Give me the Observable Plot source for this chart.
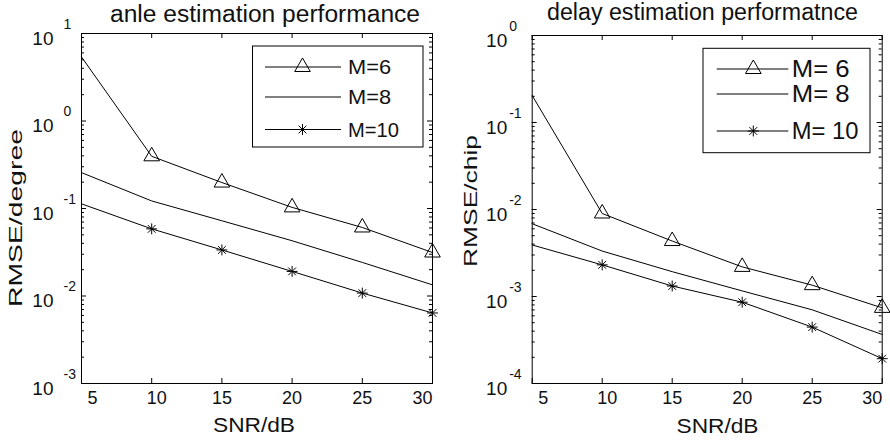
<!DOCTYPE html>
<html><head><meta charset="utf-8">
<script src="https://cdn.jsdelivr.net/npm/d3@7"></script>
<script src="https://cdn.jsdelivr.net/npm/@observablehq/plot@0.6"></script>
<style>
html,body{margin:0;padding:0;background:#fff;}
#wrap{position:relative;width:890px;height:443px;overflow:hidden;}
#wrap svg{position:absolute;top:0;}
</style></head><body><div id="wrap"></div>
<script>
// ---- data ----
const snr = [5, 10, 15, 20, 25, 30];
const xTickValues = [5, 10, 15, 20, 25, 30];
const angleM6  = [5.4, 0.395, 0.198, 0.103, 0.0607, 0.0314];
const angleM8  = [0.257, 0.122, 0.0724, 0.0428, 0.0242, 0.0134];
const angleM10 = [0.113, 0.0585, 0.0336, 0.0191, 0.0108, 0.0064];
const delayM6  = [0.204, 0.0090, 0.00434, 0.00219, 0.00135, 0.00074];
const delayM8  = [0.00686, 0.00333, 0.00193, 0.00116, 0.000703, 0.000366];
const delayM10 = [0.00391, 0.00231, 0.00132, 0.00086, 0.000445, 0.000193];
const angleLegend = ["M=6", "M=8", "M=10"];
const delayLegend = ["M= 6", "M= 8", "M= 10"];
const titles = ["anle estimation performance", "delay estimation performatnce"];
const yLabels = ["RMSE/degree", "RMSE/chip"];
const xLabel = "SNR/dB";
const angleYExp = [-3, -2, -1, 0, 1];
const delayYExp = [-4, -3, -2, -1, 0];

const FONT = '"Liberation Sans", Arial, Helvetica, sans-serif';
const INK = "#111";
const triR = 5.8, astR = 3.6;

function rows(vals) { return snr.map((x, i) => ({snr: x, v: vals[i]})); }

function panel(cfg) {
  const W = 445, H = 443;
  const pw = W - cfg.ml - cfg.mr, ph = H - cfg.mt - cfg.mb;
  const major = cfg.exps.map(e => Math.pow(10, e));
  const minor = [];
  for (let e = cfg.exps[0]; e < cfg.exps[cfg.exps.length - 1]; e++)
    for (let k = 2; k <= 9; k++) minor.push(k * Math.pow(10, e));
  const s6 = rows(cfg.s6), s8 = rows(cfg.s8), s10 = rows(cfg.s10);
  const mk = d => d.snr >= 10;
  const xt = xTickValues;
  const axisOpts = {tickSize: 0, tickPadding: 8, fontSize: 18, label: null};
  const svg = Plot.plot({
    width: W, height: H,
    marginLeft: cfg.ml, marginRight: cfg.mr, marginTop: cfg.mt, marginBottom: cfg.mb,
    style: {fontFamily: FONT, fontSize: "18px", color: INK, background: "#fff"},
    x: {domain: [5, 30], axis: null},
    y: {type: "log", domain: [major[0], major[major.length - 1]], axis: null},
    marks: [
      Plot.axisX(xt.slice(0, 1), {...axisOpts, dx: 11}),
      Plot.axisX(xt.slice(1, 2), {...axisOpts, dx: 5}),
      Plot.axisX(xt.slice(2, 5), {...axisOpts}),
      Plot.axisX(xt.slice(5), {...axisOpts, dx: -10}),
      Plot.tickX(xt, {x: d => d, insetTop: ph - 5, stroke: "#000"}),
      Plot.tickX(xt, {x: d => d, insetBottom: ph - 5, stroke: "#000"}),
      Plot.tickY(major, {y: d => d, insetRight: pw - 5, stroke: "#000"}),
      Plot.tickY(major, {y: d => d, insetLeft: pw - 5, stroke: "#000"}),
      Plot.tickY(minor, {y: d => d, insetRight: pw - 3, stroke: "#000"}),
      Plot.tickY(minor, {y: d => d, insetLeft: pw - 3, stroke: "#000"}),
      Plot.text(major, {y: d => d, frameAnchor: "left", text: () => "10", textAnchor: "end",
        dx: cfg.baseDx, dy: 5, fontSize: 19, fill: INK}),
      Plot.text(cfg.exps, {y: e => Math.pow(10, e), frameAnchor: "left", text: e => String(e),
        textAnchor: "start", dx: cfg.expDx, dy: -9, fontSize: 14, fill: INK}),
      Plot.line(s6, {x: "snr", y: "v", stroke: "#000", strokeWidth: 1}),
      Plot.line(s8, {x: "snr", y: "v", stroke: "#000", strokeWidth: 1}),
      Plot.line(s10, {x: "snr", y: "v", stroke: "#000", strokeWidth: 1}),
      Plot.dot(s6.filter(mk), {x: "snr", y: "v", symbol: "triangle", r: triR, fill: "none", stroke: "#000", strokeWidth: 1}),
      Plot.dot(s10.filter(mk), {x: "snr", y: "v", symbol: "plus", r: astR, stroke: "#000", strokeWidth: 1}),
      Plot.dot(s10.filter(mk), {x: "snr", y: "v", symbol: "times", r: astR, stroke: "#000", strokeWidth: 1}),
      Plot.frame({stroke: "#000", strokeWidth: 1})
    ]
  });
  svg.style.left = cfg.left + "px";
  const g = d3.select(svg).append("g").attr("font-family", FONT).attr("fill", INK);
  const txt = (t, x, y, fs, len, rot) => {
    const el = g.append("text").attr("font-size", fs).attr("text-anchor", "middle")
      .attr("textLength", len).attr("lengthAdjust", "spacingAndGlyphs").text(t);
    if (rot) el.attr("transform", `translate(${x},${y}) rotate(-90)`);
    else el.attr("x", x).attr("y", y);
  };
  txt(cfg.title, cfg.titleX, cfg.titleY, 23, cfg.titleLen);
  txt(cfg.ylab, cfg.ylabX, cfg.ylabY, 19, cfg.ylabLen, true);
  txt(xLabel, cfg.xlabX, cfg.xlabY, 21, 82);
  // legend
  const L = cfg.legend;
  const lg = g.append("g");
  lg.append("rect").attr("x", L.x0).attr("y", L.y0).attr("width", L.x1 - L.x0).attr("height", L.y1 - L.y0)
    .attr("fill", "#fff").attr("stroke", "#000").attr("stroke-width", 1);
  L.rows.forEach((ry, i) => {
    lg.append("line").attr("x1", L.lx0).attr("x2", L.lx1).attr("y1", ry).attr("y2", ry)
      .attr("stroke", "#000").attr("stroke-width", 1);
    if (i === 0) lg.append("path").attr("d", d3.symbol(d3.symbolTriangle, triR * triR * Math.PI)())
      .attr("transform", `translate(${L.mx},${ry})`).attr("fill", "none").attr("stroke", "#000");
    if (i === 2) {
      lg.append("path").attr("d", d3.symbol(d3.symbolPlus, astR * astR * Math.PI)())
        .attr("transform", `translate(${L.mx},${ry})`).attr("fill", "none").attr("stroke", "#000");
      lg.append("path").attr("d", d3.symbol(d3.symbolTimes, astR * astR * Math.PI)())
        .attr("transform", `translate(${L.mx},${ry})`).attr("fill", "none").attr("stroke", "#000");
    }
    lg.append("text").attr("x", L.tx).attr("y", ry).attr("dy", "0.36em").attr("font-size", L.fs)
      .attr("text-anchor", "start")
      .attr("textLength", L.tw[i]).attr("lengthAdjust", "spacingAndGlyphs").text(L.labels[i]);
  });
  document.getElementById("wrap").appendChild(svg);
}

panel({
  left: 0, ml: 81, mr: 13, mt: 33, mb: 60, exps: angleYExp,
  s6: angleM6, s8: angleM8, s10: angleM10, baseDx: -28, expDx: -18,
  title: titles[0], titleX: 265, titleY: 22, titleLen: 310,
  ylab: yLabels[0], ylabX: 22, ylabY: 218, ylabLen: 178,
  xlabX: 254, xlabY: 432,
  legend: {x0: 252.5, x1: 423, y0: 46, y1: 147, lx0: 265, lx1: 341, mx: 302.5,
    rows: [67, 97, 129.5], tx: 348, fs: 20, tw: [43, 43, 51], labels: angleLegend}
});
panel({
  left: 445, ml: 86.7, mr: 8.3, mt: 35, mb: 60, exps: delayYExp,
  s6: delayM6, s8: delayM8, s10: delayM10, baseDx: -25, expDx: -23,
  title: titles[1], titleX: 257.5, titleY: 20, titleLen: 311,
  ylab: yLabels[1], ylabX: 32, ylabY: 201, ylabLen: 132,
  xlabX: 272.5, xlabY: 433,
  legend: {x0: 258, x1: 425, y0: 48.3, y1: 152.7, lx0: 271.7, lx1: 343.3, mx: 308.3,
    rows: [69, 94, 131], tx: 346.7, fs: 23, tw: [58, 58, 66.7], labels: delayLegend}
});
</script></body></html>
